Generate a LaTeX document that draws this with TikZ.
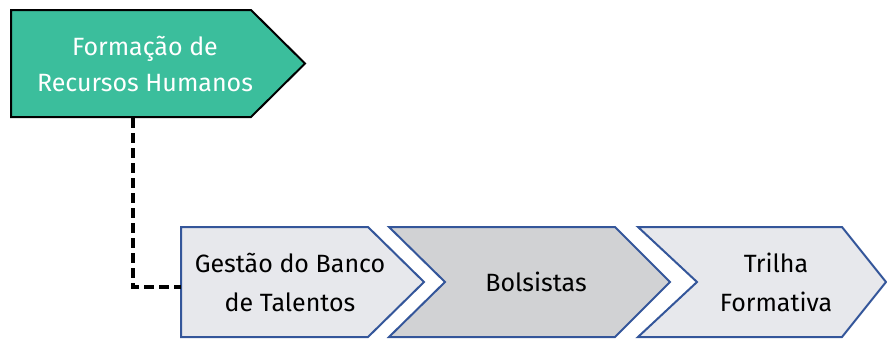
\documentclass[tikz,border=0pt]{standalone}
\usepackage{fontspec}
\setmainfont{Fira Sans}
\usepackage{xcolor}
\usetikzlibrary{positioning}
\definecolor{verde}{HTML}{3BBE9C}
\definecolor{azul}{HTML}{34569A}
\definecolor{claro}{HTML}{E7E8EC}
\definecolor{cinza}{HTML}{D1D2D4}
\tikzset{seta/.style={draw=azul,line width=2pt,fill=claro,line join=miter},
  rotulo/.style={align=center,inner sep=0pt,font=\fontsize{25}{39}\selectfont},
  link/.style={black,line width=3.5pt,dash pattern=on 10pt off 5pt}}

\begin{document}
\begin{tikzpicture}[x=1pt,y=-1pt]
        \useasboundingbox (0,0) rectangle (887,340);
        % chevrons
        \draw [seta,draw=black,fill=verde] (11,10) -- (251,10) -- (305,63.5) -- (251,117) -- (11,117) -- cycle;
        \draw [seta] (181,227) -- (368,227) -- (424,282) -- (368,337) -- (181,337) -- cycle;
        \draw [seta,fill=cinza] (389,227) -- (615,227) -- (670,282) -- (615,337) -- (389,337) -- (445,282) -- cycle;
        \draw [seta] (638,227) -- (842,227) -- (886,282) -- (842,337) -- (638,337) -- (697,282) -- cycle;

        \node[rotulo,text=white,font=\fontsize{25}{36}\selectfont] (form)at (145,63.5) {Formação de\\Recursos Humanos};
        \node[rotulo] (gestao)at (290,282) {Gestão do Banco\\de Talentos};
        \node[rotulo] (bols)at (536,282) {Bolsistas};
        \node[rotulo] (trilha)at (776,282) {Trilha\\Formativa};
        \coordinate (drop) at (133,118);
        \coordinate (entrada) at (181,287);

        \draw [link] (drop) |- (entrada);
    \end{tikzpicture}
\end{document}
